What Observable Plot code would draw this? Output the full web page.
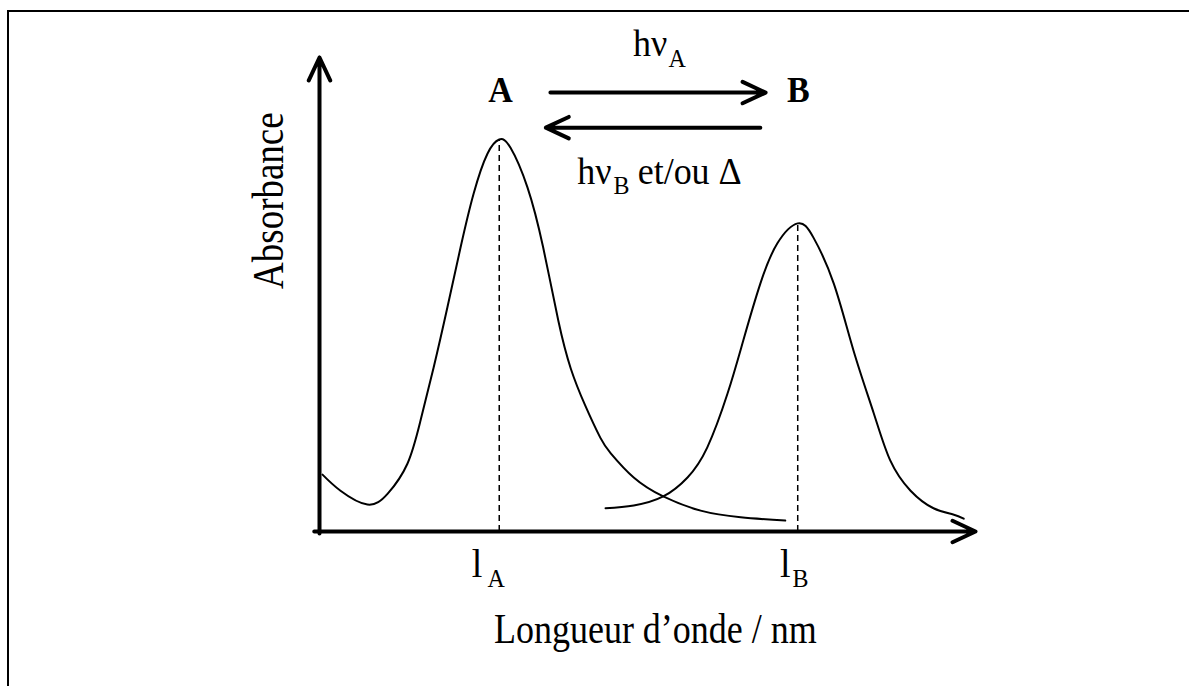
<!DOCTYPE html>
<html><head><meta charset="utf-8">
<script src="https://cdn.jsdelivr.net/npm/d3@7"></script>
<script src="https://cdn.jsdelivr.net/npm/@observablehq/plot@0.6"></script>
<style>
html,body{margin:0;padding:0;background:#fff;overflow:hidden;}
#wrap{position:relative;width:1189px;height:686px;overflow:hidden;}
#frame{position:absolute;left:7px;top:10px;width:2000px;height:2000px;border-left:2px solid #000;border-top:2px solid #000;pointer-events:none;}
svg{display:block}
</style></head><body><div id="wrap"><div id="frame"></div></div>
<script>
// Absorption spectrum of A (schematic, arbitrary units)
const curveAx = [0.46, 3.2, 7.3, 10.4, 13.4, 15.4, 17.4, 19.5, 21.5, 23.5, 25.6, 27.4, 29.1, 31.7, 34.1, 36.4, 38.3, 40.5, 42.8, 44.4, 47.9, 52.4, 58.1, 64.2, 71.0];
const curveAy = [12.0, 8.6, 5.7, 8.0, 14.3, 23.4, 34.6, 47.3, 59.9, 71.3, 79.7, 82.7, 81.0, 72.6, 59.9, 44.5, 34.4, 26.6, 19.8, 16.5, 11.4, 7.4, 4.4, 3.0, 2.3];
// Absorption spectrum of B
const curveBx = [43.6, 47.9, 52.4, 56.1, 59.1, 62.2, 64.6, 67.2, 69.8, 72.9, 75.3, 78.4, 81.4, 84.5, 87.0, 90.1, 93.6, 96.6, 98.2];
const curveBy = [4.9, 5.5, 7.4, 11.4, 17.7, 29.1, 40.3, 52.3, 60.8, 65.0, 62.0, 52.3, 38.2, 24.9, 15.0, 8.6, 4.9, 3.6, 2.7];
// Peak maxima
const species = ["A", "B"];
const lambdaMax = [27.4, 72.9];
const absMax = [82.7, 65.0];
// Tick labels (l + subscript)
const tickMain = ["l", "l"];
const tickSub = ["A", "B"];
const axisTitleX = "Longueur d’onde / nm";
const axisTitleY = "Absorbance";
const fwdLabel = ["hν", "A"];
const backLabel = ["hν", "B", "et/ou Δ"];

const lineA = curveAx.map((x, i) => ({x, y: curveAy[i]}));
const lineB = curveBx.map((x, i) => ({x, y: curveBy[i]}));
const peaks = species.map((s, i) => ({s, x: lambdaMax[i], y: absMax[i]}));
const axes = [
  {x1: -0.8, y1: 0, x2: 100, y2: 0},
  {x1: 0, y1: -0.4, x2: 0, y2: 100}
];
const reactions = [
  {x1: 35.2, y1: 92.6, x2: 68.0, y2: 92.6},
  {x1: 67.2, y1: 85.2, x2: 34.5, y2: 85.2}
];
const speciesLabels = [
  {t: species[0], x: 27.6, y: 90.7},
  {t: species[1], x: 73.0, y: 90.7}
];
const tickMainPos = [
  {t: tickMain[0], x: 24.8, y: -9.7},
  {t: tickMain[1], x: 71.8, y: -9.7}
];
const tickSubPos = [
  {t: tickSub[0], x: 25.6, y: -11.8},
  {t: tickSub[1], x: 72.1, y: -11.8}
];
const serif = "'Liberation Serif','Times New Roman',serif";

const chart = Plot.plot({
  width: 1189, height: 686,
  marginLeft: 319, marginRight: 214, marginTop: 57, marginBottom: 155,
  x: {domain: [0, 100], axis: null},
  y: {domain: [0, 100], axis: null},
  style: {background: "transparent", fontFamily: serif, overflow: "visible", color: "black"},
  marks: [
    Plot.ruleX(peaks, {x: "x", y1: 0, y2: "y", stroke: "black", strokeWidth: 1.5, strokeDasharray: "6,4"}),
    Plot.line(lineA, {x: "x", y: "y", curve: "natural", stroke: "black", strokeWidth: 2}),
    Plot.line(lineB, {x: "x", y: "y", curve: "natural", stroke: "black", strokeWidth: 2}),
    Plot.arrow(axes, {x1: "x1", y1: "y1", x2: "x2", y2: "y2", stroke: "black", strokeWidth: 4, headLength: 9.5, headAngle: 50, strokeLinecap: "round", strokeLinejoin: "round"}),
    Plot.arrow(reactions, {x1: "x1", y1: "y1", x2: "x2", y2: "y2", stroke: "black", strokeWidth: 4, headLength: 9.5, headAngle: 50, strokeLinecap: "round", strokeLinejoin: "round"}),
    Plot.text(speciesLabels, {x: "x", y: "y", text: "t", fontSize: 34, fontWeight: "bold", textAnchor: "middle", lineAnchor: "bottom", fill: "black", className: "stretch-s"}),
    Plot.text([fwdLabel[0]], {x: () => 53.0, y: () => 100.4, text: d => d, fontSize: 36, textAnchor: "end", lineAnchor: "bottom", fill: "black", className: "stretch-s"}),
    Plot.text([fwdLabel[1]], {x: () => 53.2, y: () => 97.9, text: d => d, fontSize: 24, textAnchor: "start", lineAnchor: "bottom", fill: "black", className: "stretch-s"}),
    Plot.text([backLabel[0]], {x: () => 44.5, y: () => 73.4, text: d => d, fontSize: 36, textAnchor: "end", lineAnchor: "bottom", fill: "black", className: "stretch-s"}),
    Plot.text([backLabel[1]], {x: () => 44.8, y: () => 71.3, text: d => d, fontSize: 24, textAnchor: "start", lineAnchor: "bottom", fill: "black", className: "stretch-s"}),
    Plot.text([backLabel[2]], {x: () => 48.5, y: () => 73.4, text: d => d, fontSize: 36, textAnchor: "start", lineAnchor: "bottom", fill: "black", className: "stretch-s"}),
    Plot.text(tickMainPos, {x: "x", y: "y", text: "t", fontSize: 38, textAnchor: "end", lineAnchor: "bottom", fill: "black", className: "stretch-s"}),
    Plot.text(tickSubPos, {x: "x", y: "y", text: "t", fontSize: 24, textAnchor: "start", lineAnchor: "bottom", fill: "black", className: "stretch-s"}),
    Plot.text([axisTitleX], {x: () => 51.2, y: () => -23.6, text: d => d, fontSize: 36, textAnchor: "middle", lineAnchor: "bottom", fill: "black", className: "stretch-l"}),
    Plot.text([axisTitleY], {x: () => -5.5, y: () => 69.8, text: d => d, fontSize: 37, rotate: -90, textAnchor: "middle", lineAnchor: "bottom", fill: "black", className: "stretch-l"})
  ]
});
// Times-like glyphs in the reference are drawn slightly taller than wide
function stretch(cls, k) {
  d3.select(chart).selectAll("g." + cls + " text").each(function () {
    const t = this.getAttribute("transform") || "";
    this.setAttribute("transform", t + " scale(1," + k + ")");
  });
}
stretch("stretch-l", 1.2);
stretch("stretch-s", 1.07);
document.getElementById("wrap").prepend(chart);
</script></body></html>
